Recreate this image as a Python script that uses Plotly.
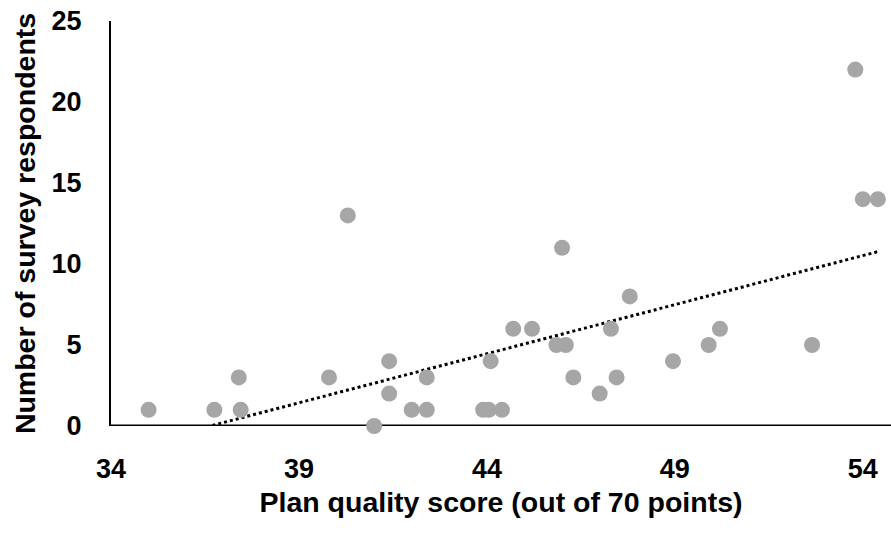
import numpy as np
import plotly.graph_objects as go

# Plan quality score (x) and number of survey respondents (y)
plan_score = [35.0, 36.75, 37.4, 37.45, 39.8, 40.3, 41.0, 41.4, 41.4, 42.0, 42.4, 42.4,
              43.9, 44.05, 44.1, 44.4, 44.7, 45.2, 45.85, 46.0, 46.1, 46.3, 47.0, 47.3,
              47.45, 47.8, 48.95, 49.9, 50.2, 52.65, 53.8, 54.0, 54.4]
respondents = [1, 1, 3, 1, 3, 13, 0, 4, 2, 1, 1, 3,
               1, 1, 4, 1, 6, 6, 5, 11, 5, 3, 2, 6,
               3, 8, 4, 5, 6, 5, 22, 14, 14]

x_ticks = [34, 39, 44, 49, 54]
y_ticks = [0, 5, 10, 15, 20, 25]

x_title = "Plan quality score (out of 70 points)"
y_title = "Number of survey respondents"

# Linear trendline (least squares), drawn across the data range
slope, intercept = np.polyfit(plan_score, respondents, 1)
trend_x = np.linspace(min(plan_score), max(plan_score), 200)
trend_y = slope * trend_x + intercept

FONT = "Liberation Sans"

fig = go.Figure()
fig.add_trace(go.Scatter(
    x=trend_x, y=trend_y, mode="lines",
    line=dict(color="black", width=3, dash="dot"),
    hoverinfo="skip", showlegend=False,
))
fig.add_trace(go.Scatter(
    x=plan_score, y=respondents, mode="markers",
    marker=dict(color="#A6A6A6", size=16, line=dict(width=0)),
    cliponaxis=False, showlegend=False,
))

fig.update_layout(
    width=891, height=536,
    margin=dict(l=111, r=0, t=21, b=110),
    plot_bgcolor="white", paper_bgcolor="white",
    font=dict(family=FONT, size=28, color="black"),
    xaxis=dict(
        range=[34, 54.75], tickvals=x_ticks, ticktext=[str(v) for v in x_ticks],
        showgrid=False, zeroline=False, showline=False,
        ticks="", ticklabelstandoff=24,
        tickfont=dict(family=FONT, size=27, color="black", weight="bold"),
        title=dict(text=x_title, standoff=9,
                   font=dict(family=FONT, size=28.5, color="black", weight="bold")),
    ),
    yaxis=dict(
        range=[0, 25], tickvals=y_ticks, ticktext=[str(v) for v in y_ticks],
        showgrid=False, zeroline=False, showline=True, linecolor="black", linewidth=2,
        ticks="", ticklabelstandoff=22,
        tickfont=dict(family=FONT, size=27, color="black", weight="bold"),
        title=dict(text=y_title, standoff=8,
                   font=dict(family=FONT, size=28.5, color="black", weight="bold")),
    ),
    shapes=[dict(type="line", xref="paper", yref="y", x0=0, x1=1, y0=0, y1=0,
                 line=dict(color="black", width=3), layer="below")],
)

fig.write_html("out.html")
